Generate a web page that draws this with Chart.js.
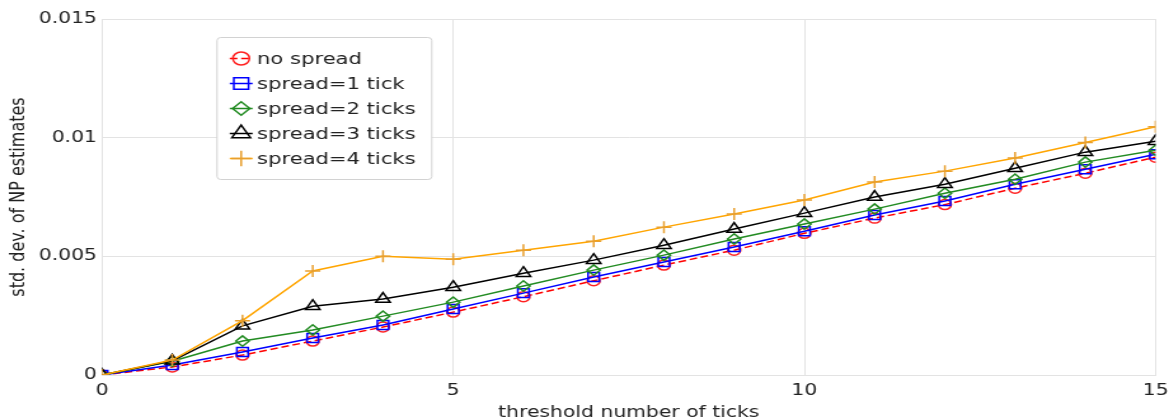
<!DOCTYPE html>
<html>
<head>
<meta charset="utf-8">
<script src="https://cdn.jsdelivr.net/npm/chart.js@4.4.1/dist/chart.umd.min.js"></script>
<style>
html,body{margin:0;padding:0;background:#fff;overflow:hidden;width:1169px;height:419px}
#wrap{width:920px;height:419px;transform:scaleX(1.2707);transform-origin:0 0}
canvas{display:block}
</style>
</head>
<body>
<div id="wrap"><canvas id="c" width="920" height="419"></canvas></div>
<script>
// ---- data ----
const thresholds = [0,1,2,3,4,5,6,7,8,9,10,11,12,13,14,15];
const noSpread   = [0,0.00034,0.00084,0.00143,0.00202,0.00265,0.00330,0.00397,0.00463,0.00526,0.00597,0.00661,0.00718,0.00787,0.00850,0.00918];
const spread1    = [0,0.00042,0.00097,0.00156,0.00211,0.00278,0.00345,0.00413,0.00476,0.00539,0.00606,0.00674,0.00733,0.00804,0.00867,0.00930];
const spread2    = [0,0.00058,0.00143,0.00190,0.00248,0.00307,0.00375,0.00442,0.00505,0.00573,0.00636,0.00699,0.00766,0.00825,0.00897,0.00947];
const spread3    = [0,0.00060,0.00207,0.00290,0.00320,0.00370,0.00429,0.00484,0.00547,0.00615,0.00682,0.00750,0.00804,0.00871,0.00939,0.00985];
const spread4    = [0,0.00063,0.00229,0.00438,0.00500,0.00488,0.00526,0.00564,0.00623,0.00678,0.00737,0.00813,0.00859,0.00914,0.00980,0.01046];
const seriesLabels = ['no spread','spread=1 tick','spread=2 ticks','spread=3 ticks','spread=4 ticks'];
const xTickLabels = ['0','5','10','15'];
const yTickLabels = ['0','0.005','0.01','0.015'];
const xAxisTitle = 'threshold number of ticks';
const yAxisTitle = 'std. dev. of NP estimates';

const FONT = '"DejaVu Sans", Verdana, sans-serif';
const TEXT = '#222';
const GRID = '#e3e3e3';

function toPoints(vals){ return thresholds.map((x,i)=>({x:x, y:vals[i]})); }

const styles = [
  {line:'#ff0000', point:'#ff2020', shape:'circle',   r:5,   dash:[6,3], order:4},
  {line:'#0000ff', point:'#0000ff', shape:'rect',     r:6.3, dash:[],    order:3},
  {line:'#228B22', point:'#228B22', shape:'rectRot',  r:5.2, dash:[],    order:2},
  {line:'#000000', point:'#000000', shape:'triangle', r:6.5, dash:[],    order:1},
  {line:'#FFA500', point:'#E89F2E', shape:'cross',    r:6,   dash:[],    order:0}
];
const seriesValues = [noSpread, spread1, spread2, spread3, spread4];

const datasets = seriesValues.map((vals,i)=>({
  label: seriesLabels[i],
  data: toPoints(vals),
  borderColor: styles[i].line,
  borderWidth: 1.5,
  borderDash: styles[i].dash,
  pointStyle: styles[i].shape,
  pointRadius: styles[i].r,
  pointBorderColor: styles[i].point,
  pointBackgroundColor: 'rgba(0,0,0,0)',
  pointBorderWidth: 1.5,
  fill: false,
  tension: 0,
  clip: 0,
  order: styles[i].order
}));

function drawMarker(ctx, shape, r, x, y){
  if (Chart.helpers && Chart.helpers.drawPoint) {
    Chart.helpers.drawPoint(ctx, {pointStyle: shape, radius: r, borderWidth: ctx.lineWidth, rotation: 0}, x, y);
    return;
  }
  ctx.beginPath();
  ctx.arc(x, y, r, 0, Math.PI*2);
  ctx.stroke();
}

const innerLegend = {
  id: 'innerLegend',
  afterDraw(chart){
    const {ctx, chartArea} = chart;
    const bx = chartArea.left + 90.5, by = chartArea.top + 18.5, bw = 169, bh = 142;
    ctx.save();
    ctx.fillStyle = '#fff';
    ctx.strokeStyle = '#d2d2d2';
    ctx.lineWidth = 1;
    ctx.beginPath();
    if (ctx.roundRect) ctx.roundRect(bx, by, bw, bh, 3); else ctx.rect(bx, by, bw, bh);
    ctx.fill();
    ctx.stroke();
    chart.data.datasets.forEach((ds, i) => {
      const y = by + 21 + i*25;
      const cx = bx + 19;
      ctx.strokeStyle = ds.borderColor;
      ctx.lineWidth = ds.borderWidth;
      ctx.setLineDash(ds.borderDash || []);
      ctx.beginPath(); ctx.moveTo(cx-9, y); ctx.lineTo(cx+9, y); ctx.stroke();
      ctx.setLineDash([]);
      ctx.strokeStyle = ds.pointBorderColor;
      ctx.fillStyle = 'rgba(0,0,0,0)';
      ctx.lineWidth = ds.pointBorderWidth;
      drawMarker(ctx, ds.pointStyle, ds.pointRadius*1.3, cx, y);
      ctx.fillStyle = TEXT;
      ctx.font = '16.6px ' + FONT;
      ctx.textBaseline = 'middle';
      ctx.textAlign = 'left';
      ctx.fillText(ds.label, bx + 31.5, y + 1);
    });
    ctx.restore();
  }
};

Chart.defaults.font.family = FONT;
Chart.defaults.font.size = 16;
Chart.defaults.color = TEXT;

new Chart(document.getElementById('c'), {
  type: 'line',
  data: { datasets },
  plugins: [innerLegend],
  options: {
    responsive: false,
    animation: false,
    devicePixelRatio: 1,
    layout: { padding: { top: 19, right: 10.6, left: 0, bottom: 0 } },
    plugins: { legend: { display: false }, tooltip: { enabled: false } },
    scales: {
      x: {
        type: 'linear', min: 0, max: 15,
        ticks: { stepSize: 5, padding: 6, color: TEXT, font: {size: 16}, maxRotation: 0,
                 callback: (v, i) => xTickLabels[i] },
        grid: { color: GRID, drawTicks: false, lineWidth: 1 },
        border: { color: GRID },
        title: { display: true, text: xAxisTitle, color: TEXT, font: {size: 16}, padding: {top: 0, bottom: -3} },
        afterFit: s => { s.height = 44; s.paddingLeft = 0; s.paddingRight = 0; }
      },
      y: {
        type: 'linear', min: 0, max: 0.015,
        ticks: { stepSize: 0.005, padding: 4, color: TEXT, font: {size: 16},
                 callback: (v, i) => yTickLabels[i] },
        grid: { color: GRID, drawTicks: false, lineWidth: 1 },
        border: { color: GRID },
        title: { display: true, text: yAxisTitle, color: TEXT, font: {size: 16}, padding: {top: 5, bottom: 0} },
        afterFit: s => { s.width = 80.3; }
      }
    }
  }
});
</script>
</body>
</html>
